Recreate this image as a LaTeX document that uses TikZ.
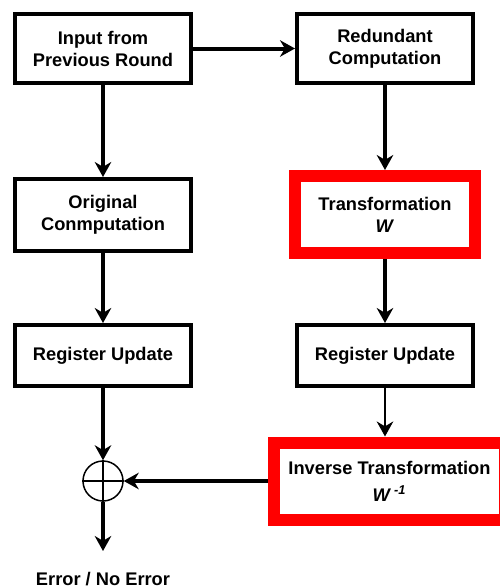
\documentclass[tikz,border=0pt]{standalone}
\usepackage{fontspec}
\setmainfont{Liberation Sans}
\usetikzlibrary{arrows.meta}

\begin{document}
\begin{tikzpicture}[
    block/.style={draw, line width=0.08cm, minimum width=3.52cm, align=center, font=\fontsize{10.4}{12.5}\selectfont\bfseries},
    redblock/.style={draw=red, line width=0.24cm, align=center, font=\fontsize{10.4}{12.5}\selectfont\bfseries},
    arrow/.style={-{Stealth[length=3mm, width=3.3mm]}, line width=0.08cm},
    thinarrow/.style={-{Stealth[length=3mm, width=3.3mm]}, line width=0.04cm}
]
\useasboundingbox (0,0) rectangle (9.98,-11.74);

% left column: original path
\node[block, minimum height=1.38cm] (input) at (2.06,-0.97) {Input from\\Previous Round};
\node[block, minimum height=1.44cm] (orig) at (2.06,-4.30) {Original\\Conmputation};
\node[block, minimum height=1.22cm] (regL) at (2.06,-7.11) {Register Update};
\node[draw, circle, line width=0.03cm, minimum size=0.8cm, inner sep=0pt] (xor) at (2.06,-9.62) {};
\draw[line width=0.03cm] (xor.north) -- (xor.south) (xor.west) -- (xor.east);
\node[font=\fontsize{10.4}{12.5}\selectfont\bfseries] (result) at (2.06,-11.58) {Error / No Error};

% right column: redundant path
\node[block, minimum height=1.38cm] (redund) at (7.70,-0.97) {Redundant\\Computation};
\node[redblock, minimum width=3.6cm, minimum height=1.54cm] (trans) at (7.70,-4.29) {Transformation\\\textit{W}};
\node[block, minimum height=1.22cm] (regR) at (7.70,-7.11) {Register Update};
\node[redblock, minimum width=4.62cm, minimum height=1.54cm] (inverse) at (7.79,-9.62) {Inverse Transformation\\[3pt]\textit{W}\,\textsuperscript{\textit{-1}}};

\draw[arrow] (input) -- (redund);
\draw[arrow] (input) -- (orig);
\draw[arrow] (orig) -- (regL);
\draw[arrow] (regL) -- (xor);
\draw[arrow, shorten >=0.3cm] (xor) -- (result);
\draw[arrow] (redund) -- (trans);
\draw[arrow] (trans) -- (regR);
\draw[thinarrow] (regR.south) -- (regR.south |- inverse.north);
\draw[arrow] (inverse) -- (xor);

\end{tikzpicture}
\end{document}
